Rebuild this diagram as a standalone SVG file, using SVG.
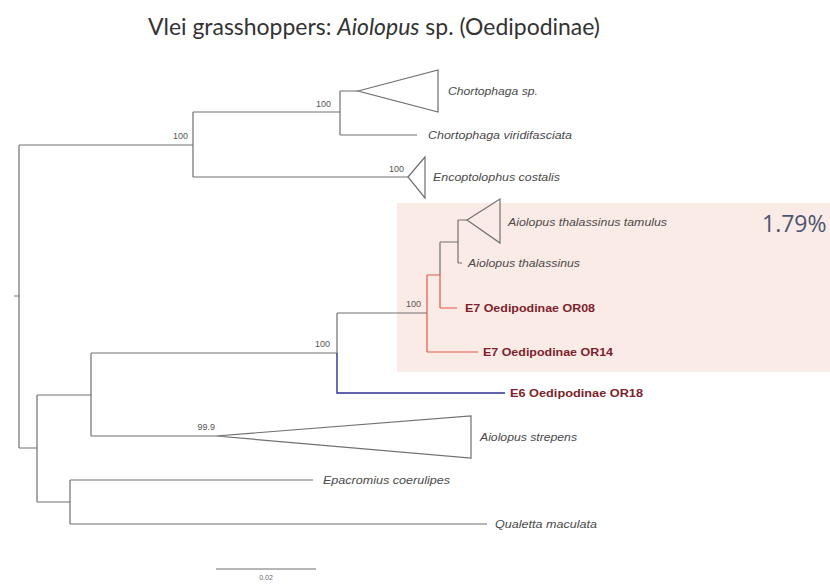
<svg xmlns="http://www.w3.org/2000/svg" width="830" height="585" viewBox="0 0 830 585">
<style>
.br{fill:none;stroke:#707070;stroke-width:1.2}
.red{fill:none;stroke:#dd5a4c;stroke-width:1.2}
.blue{fill:none;stroke:#2e3192;stroke-width:1.4}
.lab{font-family:"Liberation Sans",Arial,sans-serif;font-size:11px;font-style:italic;fill:#4a4a4a}
.hl{font-family:"Liberation Sans",Arial,sans-serif;font-size:11px;font-weight:bold;fill:#7d1f2d}
.bs{font-family:"Liberation Sans",Arial,sans-serif;font-size:9px;fill:#555;text-anchor:end}
</style>
<rect x="0" y="0" width="830" height="585" fill="#ffffff"/>
<text x="148" y="35" font-family="Lato,'Open Sans',sans-serif" font-size="24" fill="#333" textLength="452" lengthAdjust="spacingAndGlyphs">Vlei grasshoppers: <tspan font-style="italic">Aiolopus</tspan> sp. (Oedipodinae)</text>
<rect id="highlight" x="397" y="203" width="433" height="169" fill="#fbebe6"/>
<text id="pct" x="762" y="232" font-family="'Open Sans',sans-serif" font-size="23" fill="#4a5572">1.79%</text>
<g id="connectors">
<path class="br" d="M14,296H19M19,145V448M19,145H193M193,112V177M193,112H340M340,91V135M340,91H358M340,135H417M193,177H408"/>
<path class="br" d="M19,448H37M37,395V502M37,395H91M91,353V436M91,353H337M337,313V353M337,313H427M440,242V275M440,242H458M458,220V263M458,220H467M458,263H462M91,436H216M37,502H70M70,480V524M70,480H313M70,524H487"/>
<path class="red" d="M427,275V352M427,275H440M440,275V308M440,308H457M427,352H478"/>
<path class="blue" d="M337,353V393H505"/>
</g>
<g id="n-chortophaga-sp"><polygon class="br" points="358,91 438,70 438,112"/><text class="lab" x="448" y="95" textLength="90" lengthAdjust="spacingAndGlyphs">Chortophaga sp.</text></g>
<g id="n-chortophaga-viridifasciata"><text class="lab" x="428" y="139" textLength="144" lengthAdjust="spacingAndGlyphs">Chortophaga viridifasciata</text></g>
<g id="n-encoptolophus"><polygon class="br" points="408,177 425,157 425,198"/><text class="lab" x="433" y="181" textLength="127" lengthAdjust="spacingAndGlyphs">Encoptolophus costalis</text></g>
<g id="n-tamulus"><polygon class="br" points="467,220 500,199 500,243"/><text class="lab" x="508" y="226" textLength="159" lengthAdjust="spacingAndGlyphs">Aiolopus thalassinus tamulus</text></g>
<g id="n-thalassinus"><text class="lab" x="468" y="267" textLength="112" lengthAdjust="spacingAndGlyphs">Aiolopus thalassinus</text></g>
<g id="n-or08"><text class="hl" x="465" y="312" textLength="130" lengthAdjust="spacingAndGlyphs">E7 Oedipodinae OR08</text></g>
<g id="n-or14"><text class="hl" x="483" y="356" textLength="130" lengthAdjust="spacingAndGlyphs">E7 Oedipodinae OR14</text></g>
<g id="n-or18"><text class="hl" x="510" y="397" textLength="133" lengthAdjust="spacingAndGlyphs">E6 Oedipodinae OR18</text></g>
<g id="n-strepens"><polygon class="br" points="216,436 471,416 471,458"/><text class="lab" x="480" y="441" textLength="97" lengthAdjust="spacingAndGlyphs">Aiolopus strepens</text></g>
<g id="n-epacromius"><text class="lab" x="323" y="484" textLength="127" lengthAdjust="spacingAndGlyphs">Epacromius coerulipes</text></g>
<g id="n-qualetta"><text class="lab" x="495" y="528" textLength="102" lengthAdjust="spacingAndGlyphs">Qualetta maculata</text></g>
<g id="support">
<text class="bs" x="188" y="139">100</text>
<text class="bs" x="331" y="107">100</text>
<text class="bs" x="404" y="172">100</text>
<text class="bs" x="421" y="307">100</text>
<text class="bs" x="330" y="347">100</text>
<text class="bs" x="215" y="430">99.9</text>
</g>
<g id="scale">
<line class="br" x1="216" y1="569" x2="316" y2="569"/>
<text x="266" y="580" font-family="'Liberation Sans',Arial,sans-serif" font-size="7" fill="#666" text-anchor="middle">0.02</text>
</g>
</svg>
